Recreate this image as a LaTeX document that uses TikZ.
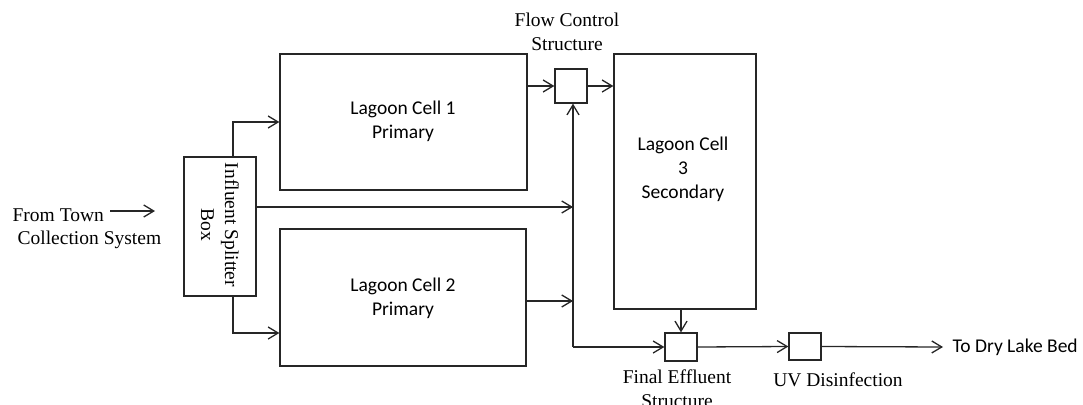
\documentclass[tikz,border=0pt]{standalone}
\usepackage{fontspec}
\setmainfont{Liberation Serif}
\newfontfamily\calfont{Carlito}
\usetikzlibrary{arrows.meta,calc}
\begin{document}
\begin{tikzpicture}[x=1pt,y=-1pt,
  line width=1.3pt, draw=black!85,
  box/.style={draw, rectangle, inner sep=0pt, line width=1.3pt},
  serif/.style={inner sep=0pt, align=center, font=\fontsize{19.5}{24}\selectfont},
  sans/.style={inner sep=0pt, align=center, font=\calfont\fontsize{19.5}{24}\selectfont},
  arr/.style={-{Straight Barb[length=10pt,width=12pt,line width=1.3pt]}}]
\useasboundingbox (0,0) rectangle (1083,404);
% boxes
\node[box, minimum width=247pt, minimum height=136pt] (c1) at (403.5,122) {};
\node[sans] (c1t) at (403,121) {Lagoon Cell 1\\Primary};
\node[box, minimum width=246pt, minimum height=137pt] (c2) at (403,297.5) {};
\node[sans] (c2t) at (403,298) {Lagoon Cell 2\\Primary};
\node[box, minimum width=142pt, minimum height=255pt] (c3) at (685,181.5) {};
\node[sans] (c3t) at (683,169) {Lagoon Cell\\3\\Secondary};
\node[box, minimum width=72pt, minimum height=139pt] (split) at (220,226.5) {};
\node[serif, rotate=-90] (splitt) at (220,225) {Influent Splitter\\Box};
\node[box, minimum width=32pt, minimum height=34pt] (fc) at (571,86) {};
\node[box, minimum width=32pt, minimum height=28pt] (fe) at (681,347) {};
\node[box, minimum width=32pt, minimum height=27pt] (uv) at (805,346.5) {};
% labels
\node[serif] (fct) at (567,32) {Flow Control\\Structure};
\node[serif] (fet) at (677,389) {Final Effluent\\Structure};
\node[serif] (uvt) at (838,380) {UV Disinfection};
\node[sans, anchor=west] (dry) at (952,347) {To Dry Lake Bed};
\node[serif, anchor=west] (ft) at (12,215) {From Town};
\node[serif, anchor=west] (cs) at (17,240) {Collection System};
% coordinates
\coordinate (a1) at (110,211);
\coordinate (a2) at (155,211);
\coordinate (sp1) at (233,122);
\coordinate (sp2) at (233,333);
\coordinate (t1) at (573,207);
\coordinate (t2) at (573,301);
\coordinate (tb) at (573,347);
\coordinate (out) at (943,347);
% connectors
\draw[arr] (a1) -- (a2);
\draw[arr] (split.north -| sp1) -- (sp1) -- (sp1 -| c1.west);
\draw[arr] (split.south -| sp2) -- (sp2) -- (sp2 -| c2.west);
\draw[arr] (split.east |- t1) -- (t1);
\draw[arr] (c2.east |- t2) -- (t2);
\draw[arr] (tb) -- (tb |- fc.south);
\draw[arr] (tb) -- (fe.west);
\draw[arr] (c1.east |- fc.west) -- (fc.west);
\draw[arr] (fc.east) -- (fc.east -| c3.west);
\draw[arr] (c3.south -| fe.north) -- (fe.north);
\draw[arr] (fe.east) -- (uv.west);
\draw[arr] (uv.east) -- (out);
\end{tikzpicture}
\end{document}
